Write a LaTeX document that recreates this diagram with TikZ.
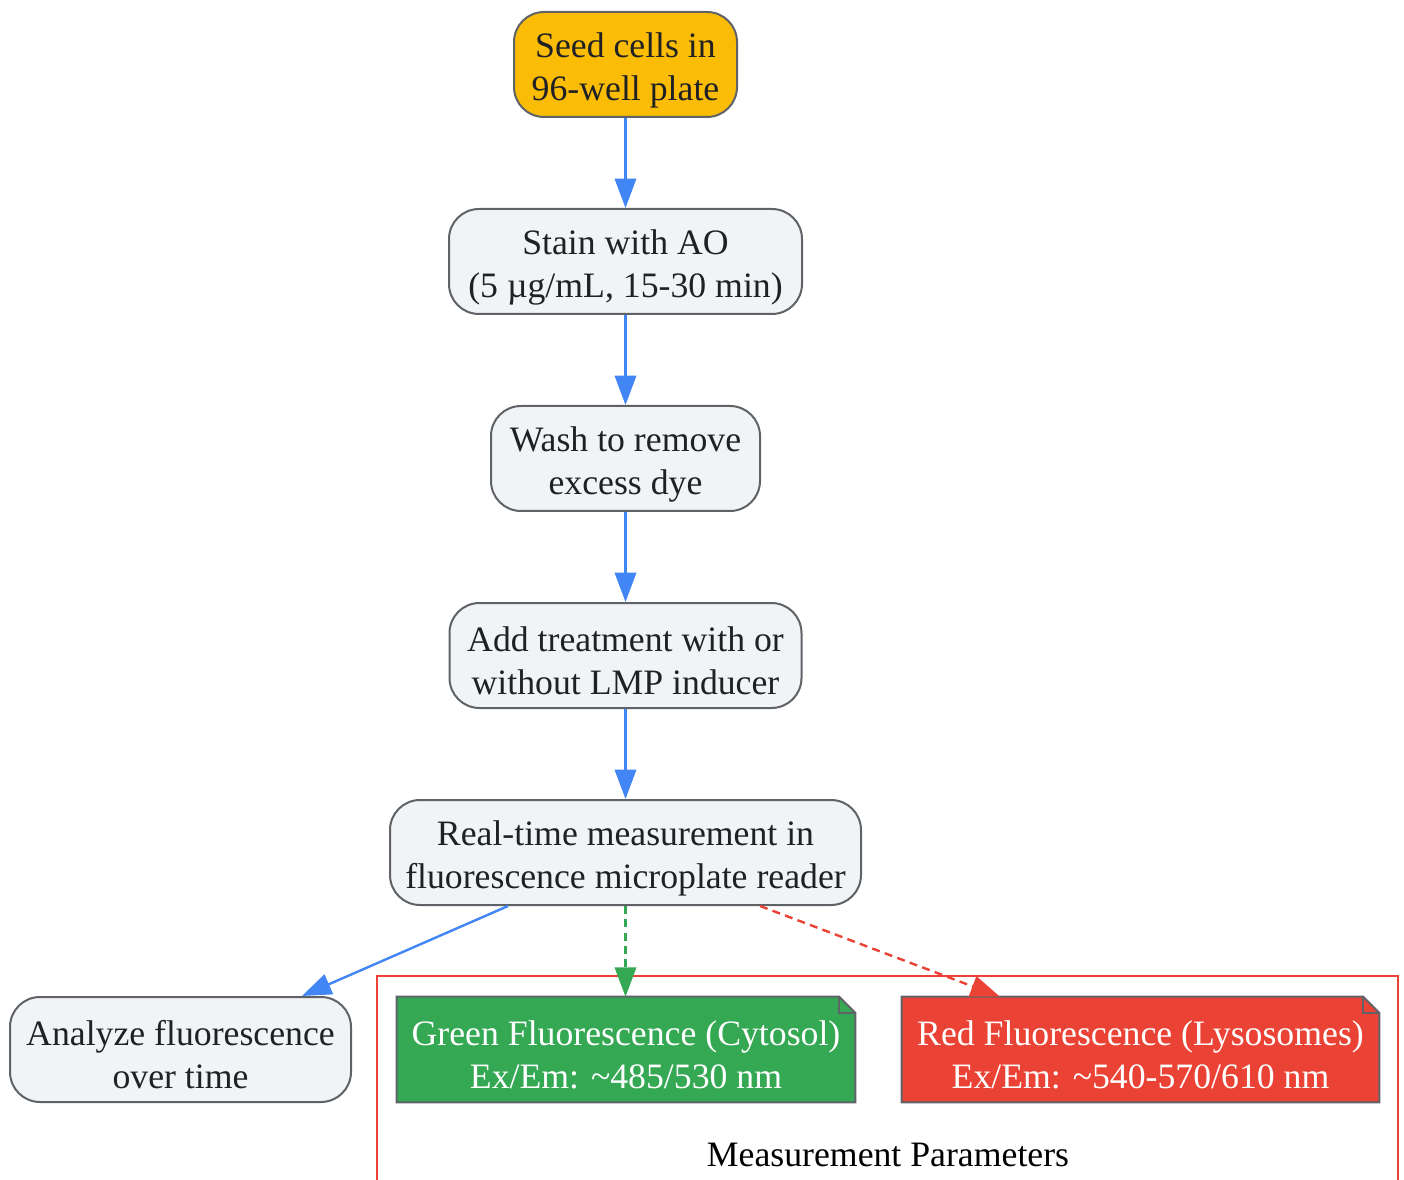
\documentclass[tikz,border=0pt]{standalone}
\usepackage{fontspec}
\setmainfont{Liberation Serif}
\usetikzlibrary{arrows.meta,backgrounds}
\definecolor{seedfill}{HTML}{FBBC05}
\definecolor{grayfill}{HTML}{F1F3F4}
\definecolor{bordergray}{HTML}{5F6368}
\definecolor{textdark}{HTML}{202124}
\definecolor{gblue}{HTML}{4285F4}
\definecolor{ggreen}{HTML}{34A853}
\definecolor{gred}{HTML}{EA4335}
\newcommand{\lowstrut}{\rule{0pt}{27pt}}
\tikzset{
  stepbox/.style={draw=bordergray, line width=1.5pt, fill=grayfill, rounded corners=22.5pt,
    minimum height=78.75pt, align=center, text=textdark, inner sep=0pt,
    font=\fontsize{26.8}{32.25}\selectfont},
  notebox/.style={minimum height=78.75pt, align=center, text=white, inner sep=0pt,
    font=\fontsize{26.8}{32.25}\selectfont},
  flow/.style={draw=gblue, line width=1.8pt, -{Triangle[length=22pt,width=16pt]}},
  gflow/.style={draw=ggreen, line width=1.8pt, dash pattern=on 6pt off 4pt, -{Triangle[length=22pt,width=16pt]}},
  rflow/.style={draw=gred, line width=1.8pt, dash pattern=on 6pt off 4pt, -{Triangle[length=22pt,width=16pt]}},
}
\begin{document}
\begin{tikzpicture}[x=0.75pt,y=-0.75pt]
\useasboundingbox (0,0) rectangle (1404,1180);
\clip (0,0) rectangle (1404,1180);
% cluster
\draw[draw=gred, line width=1.5pt] (377,1200) -- (377,976) -- (1398,976) -- (1398,1200);
\node[font=\fontsize{26.8}{32.25}\selectfont, text=black, anchor=base] (clabel) at (888,1166) {Measurement Parameters};

\node[stepbox, fill=seedfill, minimum width=167.25pt] (seed) at (625.5,64.5) {\lowstrut Seed cells in\\96-well plate};
\node[stepbox, minimum width=264.75pt] (stain) at (625.5,261.5) {\lowstrut Stain with AO\\(5 µg/mL, 15-30 min)};
\node[stepbox, minimum width=201.75pt] (wash) at (625.5,458.5) {\lowstrut Wash to remove\\excess dye};
\node[stepbox, minimum width=264pt] (add) at (625.5,655.5) {\lowstrut Add treatment with or\\without LMP inducer};
\node[stepbox, minimum width=353.25pt] (real) at (625.5,852.5) {\lowstrut Real-time measurement in\\fluorescence microplate reader};
\node[stepbox, minimum width=255.75pt] (analyze) at (180.5,1049.5) {\lowstrut Analyze fluorescence\\over time};
\node[notebox, minimum width=343.5pt] (green) at (626,1049.5) {\lowstrut Green Fluorescence (Cytosol)\\Ex/Em: \textasciitilde 485/530 nm};
\node[notebox, minimum width=357.75pt] (red) at (1140.5,1049.5) {\lowstrut Red Fluorescence (Lysosomes)\\Ex/Em: \textasciitilde 540-570/610 nm};

\begin{scope}[on background layer]
\foreach \n/\c in {green/ggreen, red/gred}{
  \filldraw[fill=\c, draw=bordergray, line width=1.5pt, line join=miter]
    (\n.south west) -- (\n.north west) -- ([xshift=-12pt]\n.north east)
    -- ([yshift=-12pt]\n.north east) -- (\n.south east) -- cycle;
  \draw[draw=bordergray, line width=1.5pt]
    ([xshift=-12pt]\n.north east) -- ([xshift=-12pt,yshift=-12pt]\n.north east)
    -- ([yshift=-12pt]\n.north east);
}
\end{scope}

\draw[flow] (seed) -- (stain);
\draw[flow] (stain) -- (wash);
\draw[flow] (wash) -- (add);
\draw[flow] (add) -- (real);
\draw[flow] ([xshift=-88.1pt]real.south) -- ([xshift=91.1pt]analyze.north);
\draw[gflow] (real.south) -- (real.south |- green.north);
\draw[rflow] ([xshift=100.9pt]real.south) -- ([xshift=-105.4pt]red.north);
\end{tikzpicture}
\end{document}
